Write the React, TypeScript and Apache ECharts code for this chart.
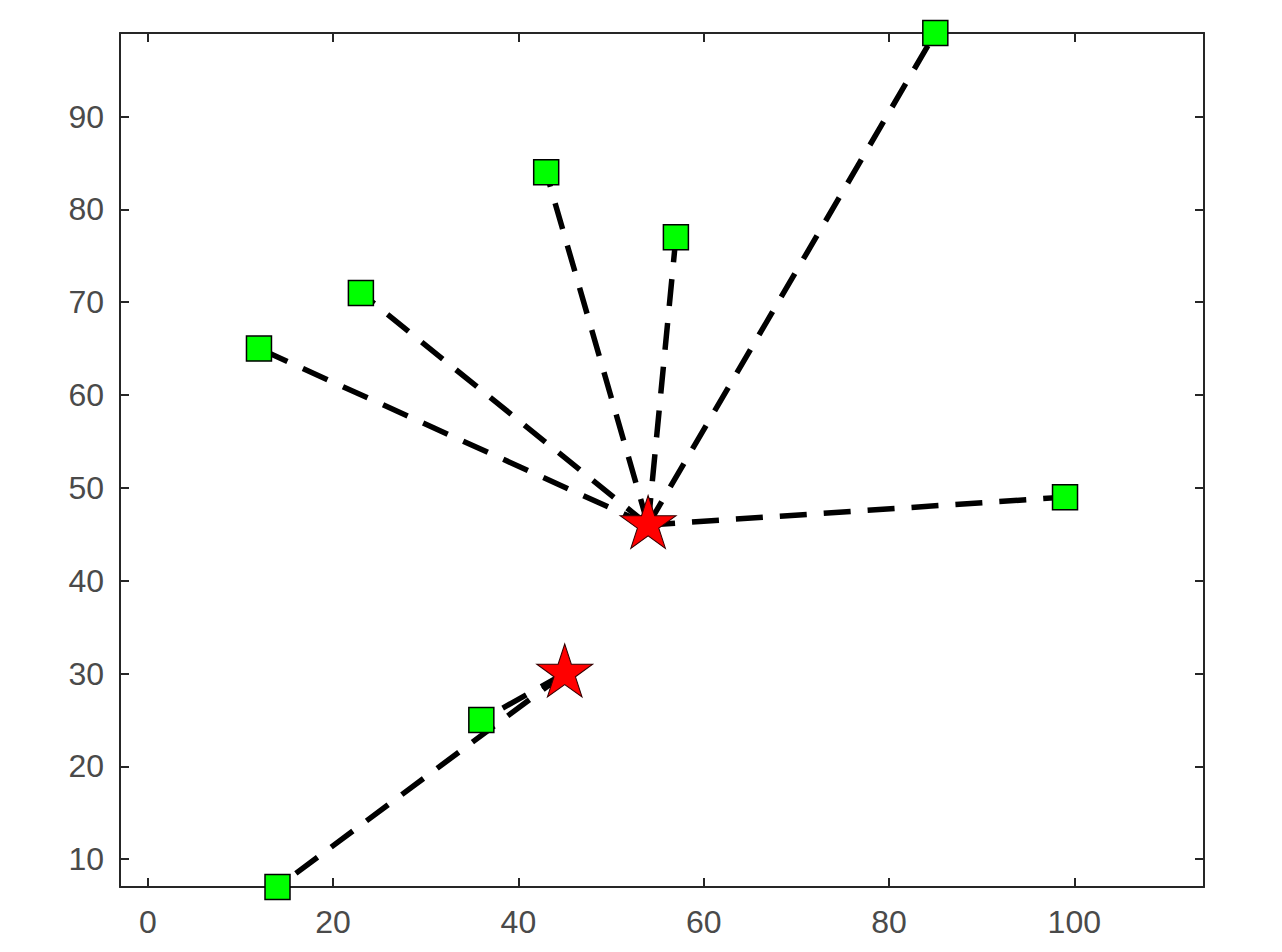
import React, { useEffect, useRef } from "react";
import * as echarts from "echarts";

// Hubs (red stars)
const hubX = [54, 45];
const hubY = [46, 30];

// Nodes (green squares) and the hub each one is linked to
const nodeX = [85, 43, 57, 23, 12, 99, 36, 14];
const nodeY = [99, 84, 77, 71, 65, 49, 25, 7];
const nodeHub = [0, 0, 0, 0, 0, 0, 1, 1];

// Axis ticks
const xTicks = [0, 20, 40, 60, 80, 100];
const yTicks = [10, 20, 30, 40, 50, 60, 70, 80, 90];
const xMin = -3;
const xMax = 114;
const yMin = 7;
const yMax = 99;

const STAR =
  "path://M50 0 L61.23 34.55 L97.55 34.55 L68.16 55.9 L79.39 90.45 L50 69.1 L20.61 90.45 L31.84 55.9 L2.45 34.55 L38.77 34.55 Z";

export default function App() {
  const ref = useRef<HTMLDivElement>(null);

  useEffect(() => {
    if (!ref.current) return;
    const chart = echarts.init(ref.current, null, { renderer: "svg" });

    const axisColor = "#262626";
    const labelColor = "#4a4a4a";
    const font = "'Liberation Sans', Arial, sans-serif";

    const linkSeries = nodeX.map((x, i) => ({
      type: "line",
      xAxisIndex: 0,
      yAxisIndex: 0,
      data: [
        [hubX[nodeHub[i]], hubY[nodeHub[i]]],
        [x, nodeY[i]],
      ],
      symbol: "none",
      silent: true,
      z: 2,
      lineStyle: {
        color: "#000000",
        width: 5.5,
        type: [27, 17],
        cap: "butt",
      },
    }));

    const baseX = {
      type: "value",
      min: xMin,
      max: xMax,
      splitLine: { show: false },
      axisLine: { show: true, onZero: false, lineStyle: { color: axisColor, width: 2 } },
      axisTick: {
        show: true,
        inside: true,
        length: 9,
        customValues: xTicks,
        lineStyle: { color: axisColor, width: 2 },
      },
    };
    const baseY = {
      type: "value",
      min: yMin,
      max: yMax,
      splitLine: { show: false },
      axisLine: { show: true, onZero: false, lineStyle: { color: axisColor, width: 2 } },
      axisTick: {
        show: true,
        inside: true,
        length: 9,
        customValues: yTicks,
        lineStyle: { color: axisColor, width: 2 },
      },
    };

    chart.setOption({
      animation: false,
      backgroundColor: "#ffffff",
      grid: { left: 120, top: 33, right: 78, bottom: 65, containLabel: false },
      xAxis: [
        {
          ...baseX,
          position: "bottom",
          axisLabel: {
            show: true,
            customValues: xTicks,
            color: labelColor,
            fontSize: 32,
            fontFamily: font,
            margin: 19,
          },
        },
        {
          ...baseX,
          position: "top",
          axisLabel: { show: false },
        },
      ],
      yAxis: [
        {
          ...baseY,
          position: "left",
          axisLabel: {
            show: true,
            customValues: yTicks,
            color: labelColor,
            fontSize: 32,
            fontFamily: font,
            margin: 16,
          },
        },
        {
          ...baseY,
          position: "right",
          axisLabel: { show: false },
        },
      ],
      series: [
        ...linkSeries,
        {
          type: "scatter",
          xAxisIndex: 0,
          yAxisIndex: 0,
          data: nodeX.map((x, i) => [x, nodeY[i]]),
          symbol: "rect",
          symbolSize: 25,
          z: 3,
          itemStyle: { color: "#00ff00", borderColor: "#000000", borderWidth: 1.5, opacity: 1 },
        },
        {
          type: "scatter",
          xAxisIndex: 0,
          yAxisIndex: 0,
          data: hubX.map((x, i) => [x, hubY[i]]),
          symbol: STAR,
          symbolSize: [56, 53],
          symbolOffset: [0, -3],
          z: 4,
          itemStyle: { color: "#ff0000", borderColor: "#330000", borderWidth: 1, opacity: 1 },
        },
      ],
    });

    return () => chart.dispose();
  }, []);

  return (
    <div
      ref={ref}
      style={{
        position: "fixed",
        left: 0,
        top: 0,
        width: 1282,
        height: 952,
        background: "#ffffff",
      }}
    />
  );
}
